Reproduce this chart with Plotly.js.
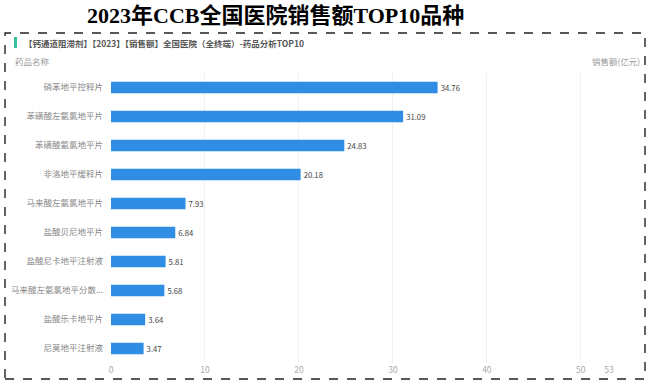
<!DOCTYPE html>
<html>
<head>
<meta charset="utf-8">
<script src="https://cdn.plot.ly/plotly-3.0.1.min.js"></script>
<style>html,body{margin:0;padding:0;background:#fff;}#chart{width:649px;height:383px;}</style>
</head>
<body>
<div id="chart"></div>
<script>
const categories = ["硝苯地平控释片","苯磺酸左氨氯地平片","苯磺酸氨氯地平片","非洛地平缓释片","马来酸左氨氯地平片","盐酸贝尼地平片","盐酸尼卡地平注射液","马来酸左氨氯地平分散...","盐酸乐卡地平片","尼莫地平注射液"];
const sales = [34.76, 31.09, 24.83, 20.18, 7.93, 6.84, 5.81, 5.68, 3.64, 3.47];
const xTicks = [0, 10, 20, 30, 40, 50, 53];
const titleText = "2023年CCB全国医院销售额TOP10品种";
const subtitleText = "【钙通道阻滞剂】【2023】【销售额】全国医院（全终端）-药品分析TOP10";
const yAxisName = "药品名称";
const xAxisName = "销售额(亿元)";

const W = 649, H = 383;
const M = {l: 111, r: 40, t: 73, b: 20};
const pw = W - M.l - M.r, ph = H - M.t - M.b;
const px = x => (x - M.l) / pw;
const py = y => (H - M.b - y) / ph;

const sans = "Noto Sans CJK SC, Noto Sans, sans-serif";

const trace = {
  type: 'bar',
  orientation: 'h',
  y: categories,
  x: sales,
  marker: {color: '#2f8de4'},
  width: 0.4,
  text: sales.map(v => v.toFixed(2)),
  textposition: 'outside',
  cliponaxis: false,
  textfont: {family: sans, size: 10, color: '#444'},
  hoverinfo: 'none'
};

const layout = {
  width: W, height: H,
  margin: M,
  paper_bgcolor: '#fff', plot_bgcolor: '#fff',
  showlegend: false,
  xaxis: {
    range: [0, 53],
    tickvals: xTicks,
    ticktext: xTicks.map(String),
    showgrid: true, gridcolor: '#f0f0f0', gridwidth: 1,
    zeroline: false, showline: false, ticks: '',
    tickfont: {family: sans, size: 8.5, color: '#aaa'}
  },
  yaxis: {
    type: 'category',
    autorange: 'reversed',
    showgrid: false, zeroline: false, showline: false, ticks: '',
    ticklabelstandoff: 7,
    tickfont: {family: sans, size: 8.5, color: '#888'}
  },
  shapes: [
    {type: 'rect', xref: 'paper', yref: 'paper', x0: px(5), x1: px(645), y0: py(379), y1: py(33),
     line: {color: '#222', width: 1.4, dash: 'dash'}, fillcolor: 'rgba(0,0,0,0)'},
    {type: 'rect', xref: 'paper', yref: 'paper', x0: px(14), x1: px(17), y0: py(48), y1: py(37),
     line: {width: 0}, fillcolor: '#35c0a0'}
  ],
  annotations: [
    {text: '<b>' + titleText + '</b>', xref: 'paper', yref: 'paper', x: px(275), y: py(15),
     xanchor: 'center', yanchor: 'middle', showarrow: false,
     font: {family: 'Liberation Serif, Noto Sans CJK SC, serif', size: 22, color: '#000'}},
    {text: '<b>' + subtitleText + '</b>', xref: 'paper', yref: 'paper', x: px(22), y: py(42.5),
     xanchor: 'left', yanchor: 'middle', showarrow: false,
     font: {family: sans, size: 8.5, color: '#555'}},
    {text: yAxisName, xref: 'paper', yref: 'paper', x: px(13), y: py(61),
     xanchor: 'left', yanchor: 'middle', showarrow: false,
     font: {family: sans, size: 8.5, color: '#999'}},
    {text: xAxisName, xref: 'paper', yref: 'paper', x: px(642), y: py(61),
     xanchor: 'right', yanchor: 'middle', showarrow: false,
     font: {family: sans, size: 8.5, color: '#999'}}
  ]
};

Plotly.newPlot('chart', [trace], layout, {displayModeBar: false, staticPlot: true});
</script>
</body>
</html>
